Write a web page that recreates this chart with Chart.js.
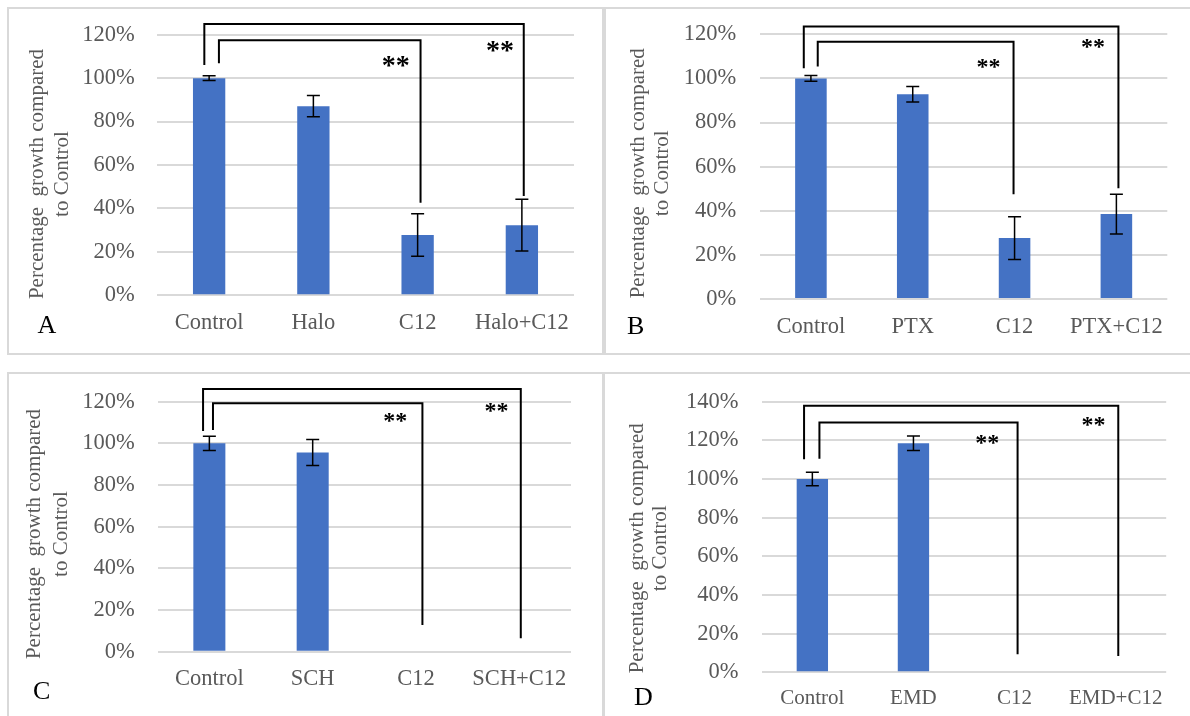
<!DOCTYPE html>
<html>
<head>
<meta charset="utf-8">
<script src="https://cdn.jsdelivr.net/npm/chart.js@4.4.0/dist/chart.umd.min.js"></script>
<style>
    html, body { margin: 0; padding: 0; background: #fff; }
    body { width: 1190px; height: 716px; position: relative; overflow: hidden; }
    .box { position: absolute; border: 2px solid #d9d9d9; box-sizing: border-box; }
    canvas { position: absolute; }
</style>
</head>
<body>
<div class="box" style="left:7px;top:7px;width:597px;height:348px"></div>
<div class="box" style="left:604px;top:7px;width:600px;height:348px"></div>
<div class="box" style="left:7px;top:372px;width:597px;height:400px"></div>
<div class="box" style="left:603px;top:372px;width:600px;height:400px"></div>
<canvas id="chartA"></canvas>
<canvas id="chartB"></canvas>
<canvas id="chartC"></canvas>
<canvas id="chartD"></canvas>
<script>
// values (percent of control)
const catsA = ["Control", "Halo", "C12", "Halo+C12"];
const valsA = [100, 87.1, 27.8, 32.3];
const errA = [1.1, 4.9, 9.8, 11.9];

const catsB = ["Control", "PTX", "C12", "PTX+C12"];
const valsB = [100, 92.8, 27.6, 38.5];
const errB = [1.3, 3.5, 9.7, 9.0];

const catsC = ["Control", "SCH", "C12", "SCH+C12"];
const valsC = [100, 95.6, 0, 0];
const errC = [3.4, 6.2, 0, 0];

const catsD = ["Control", "EMD", "C12", "EMD+C12"];
const valsD = [100, 118.5, 0, 0];
const errD = [3.5, 3.8, 0, 0];

// significance brackets: [from category, to category, level %, left end %, right end %]
const bracketsA = [[-0.046, 3.018, 124.9, 106, 45.7], [0.094, 2.028, 117.5, 106.8, 42.6]];
const bracketsB = [[-0.07, 3.02, 123.5, 104.6, 50.2], [0.067, 1.99, 116.6, 105.4, 47.5]];
const bracketsC = [[-0.061, 3.014, 126.1, 105.9, 6.4], [0.035, 2.062, 119.2, 106.4, 12.8]];
const bracketsD = [[-0.082, 3.026, 137.9, 110.2, 8.4], [0.07, 2.03, 129.3, 110.5, 9.3]];

// "**" marks: [category position, value %]
const starsA = [[1.79, 107.9], [2.79, 115]];
const starsB = [[1.744, 107.2], [2.77, 116.2]];
const starsC = [[1.80, 112.8], [2.78, 117.6]];
const starsD = [[1.73, 120.7], [2.78, 130.2]];

const yTitle = ["Percentage  growth compared", "to Control"];
const serif = "'Liberation Serif', 'Times New Roman', serif";
const grey = "#595959";

const decor = {
    id: "decor",
    afterDatasetsDraw(chart, args, o) {
        const ctx = chart.ctx;
        const xs = chart.scales.x;
        const ys = chart.scales.y;
        const bars = chart.getDatasetMeta(0).data;
        const vals = chart.data.datasets[0].data;
        ctx.save();
        ctx.strokeStyle = "#000";
        ctx.lineWidth = 1.5;
        o.errors.forEach((e, i) => {
            if (!e) return;
            const bx = bars[i].x;
            const hi = ys.getPixelForValue(vals[i] + e);
            const lo = ys.getPixelForValue(vals[i] - e);
            ctx.beginPath();
            ctx.moveTo(bx, hi); ctx.lineTo(bx, lo);
            ctx.moveTo(bx - 6.5, hi); ctx.lineTo(bx + 6.5, hi);
            ctx.moveTo(bx - 6.5, lo); ctx.lineTo(bx + 6.5, lo);
            ctx.stroke();
        });

        ctx.lineWidth = 2;
        o.brackets.forEach(([a, b, level, endA, endB]) => {
            const xa = xs.getPixelForValue(a);
            const xb = xs.getPixelForValue(b);
            const yl = ys.getPixelForValue(level);
            ctx.beginPath();
            ctx.moveTo(xa, ys.getPixelForValue(endA));
            ctx.lineTo(xa, yl);
            ctx.lineTo(xb, yl);
            ctx.lineTo(xb, ys.getPixelForValue(endB));
            ctx.stroke();
        });

        ctx.fillStyle = "#000";
        ctx.font = o.starFont;
        ctx.textAlign = "center";
        ctx.textBaseline = "middle";
        o.stars.forEach(([sx, sy]) => {
            ctx.fillText("**", xs.getPixelForValue(sx), ys.getPixelForValue(sy) + o.starShift);
        });

        // axis title, two rotated lines
        ctx.fillStyle = grey;
        ctx.font = "21px " + serif;
        yTitle.forEach((line, i) => {
            ctx.save();
            ctx.translate(o.titleX[i], o.titleY);
            ctx.rotate(-Math.PI / 2);
            ctx.fillText(line, 0, 0);
            ctx.restore();
        });

        // panel letter
        ctx.fillStyle = "#000";
        ctx.font = "26px " + serif;
        ctx.textAlign = "left";
        ctx.textBaseline = "alphabetic";
        ctx.fillText(o.letter, o.letterX, o.letterY);
        ctx.restore();
    }
};

function makePanel(id, frame, area, look, cats, vals, errs, yMax, brackets, stars) {
    const [fx, fy, fw, fh] = frame;
    const cv = document.getElementById(id);
    cv.style.left = fx + "px";
    cv.style.top = fy + "px";
    cv.width = fw;
    cv.height = fh;

    return new Chart(cv, {
        type: "bar",
        data: {
            labels: cats,
            datasets: [{
                data: vals,
                backgroundColor: "#4472c4",
                categoryPercentage: 1,
                barPercentage: 0.31
            }]
        },
        options: {
            responsive: false,
            animation: false,
            devicePixelRatio: 1,
            layout: { padding: { left: 0, top: area[2] - fy, right: fx + fw - area[1], bottom: 0 } },
            plugins: {
                legend: { display: false },
                tooltip: { enabled: false },
                decor: {
                    errors: errs,
                    brackets: brackets,
                    stars: stars,
                    starFont: look.starFont,
                    starShift: look.starShift,
                    titleX: look.titleX.map(v => v - fx),
                    titleY: look.titleY - fy,
                    letter: look.letter,
                    letterX: look.letterX - fx,
                    letterY: look.letterY - fy
                }
            },
            scales: {
                x: {
                    grid: { display: false, drawTicks: false },
                    border: { display: false },
                    ticks: {
                        color: grey,
                        font: { family: serif, size: look.catSize, lineHeight: 1.2 },
                        padding: look.catY - area[3] - look.catSize * 0.6,
                        maxRotation: 0,
                        autoSkip: false
                    },
                    afterFit: s => { s.height = fy + fh - area[3]; }
                },
                y: {
                    min: 0,
                    max: yMax,
                    // gap between labels and plot comes from an invisible tick mark,
                    // ticks.padding would also push the plot area down
                    grid: {
                        color: "#d9d9d9",
                        lineWidth: 2,
                        drawTicks: true,
                        tickLength: area[0] - look.tickRight,
                        tickColor: "rgba(0,0,0,0)"
                    },
                    border: { display: false },
                    ticks: {
                        stepSize: 20,
                        color: grey,
                        font: { family: serif, size: 22.5 },
                        padding: 0,
                        callback: v => v + "%"
                    },
                    afterFit: s => { s.width = area[0] - fx; }
                }
            }
        },
        plugins: [decor]
    });
}

makePanel("chartA", [9, 9, 593, 344], [157, 574, 34.7, 295.3],
    { tickRight: 134.7, catY: 323.3, catSize: 22.5, titleX: [37.5, 62], titleY: 174,
      letter: "A", letterX: 37.5, letterY: 333, starFont: "bold 28px " + serif, starShift: 6 },
    catsA, valsA, errA, 120, bracketsA, starsA);

makePanel("chartB", [606, 9, 584, 344], [760, 1167.3, 34.3, 299],
    { tickRight: 736.2, catY: 326.7, catSize: 22.5, titleX: [638.8, 662.1], titleY: 173.3,
      letter: "B", letterX: 627, letterY: 334, starFont: "bold 24px " + serif, starShift: 5 },
    catsB, valsB, errB, 120, bracketsB, starsB);

makePanel("chartC", [9, 374, 593, 342], [157.7, 571, 401.7, 651.7],
    { tickRight: 134.7, catY: 679.3, catSize: 22.5, titleX: [34.4, 61.2], titleY: 534,
      letter: "C", letterX: 33, letterY: 699, starFont: "bold 24px " + serif, starShift: 5 },
    catsC, valsC, errC, 120, bracketsC, starsC);

makePanel("chartD", [605, 374, 585, 342], [761.8, 1166.2, 401.7, 672.3],
    { tickRight: 738.5, catY: 698.3, catSize: 21, titleX: [637.6, 660.2], titleY: 548.3,
      letter: "D", letterX: 634, letterY: 705, starFont: "bold 24px " + serif, starShift: 5 },
    catsD, valsD, errD, 140, bracketsD, starsD);
</script>
</body>
</html>
